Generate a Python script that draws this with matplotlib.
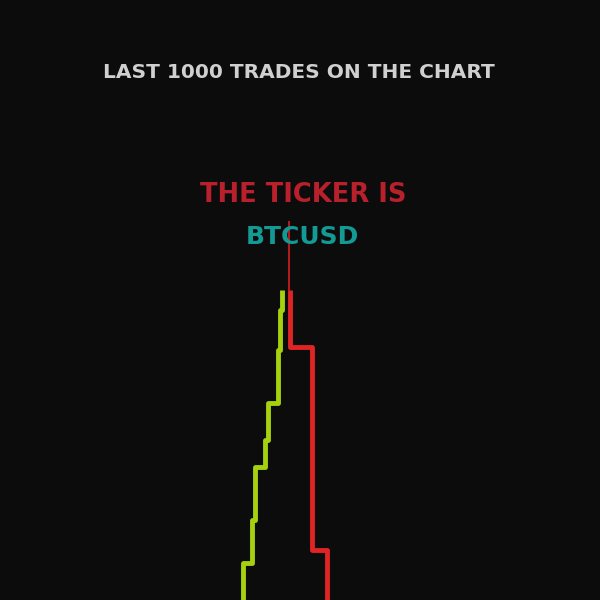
import matplotlib
matplotlib.use("Agg")
import matplotlib.pyplot as plt

# order book depth (price, cumulative size where the level starts)
bid_prices = [28.2, 28.0, 27.8, 26.8, 26.5, 25.5, 25.2, 24.3, 24.3]
bid_depth = [0, 20, 60, 113, 150, 177, 230, 273, 330]
ask_prices = [29.0, 31.2, 32.7, 32.7]
ask_depth = [0, 57, 260, 330]
last_price = 28.9

TITLE = "LAST 1000 TRADES ON THE CHART"
TICKER_LABEL = "THE TICKER IS"
TICKER = "BTCUSD"

BG = "#0c0c0c"


def main() -> None:
    fig = plt.figure(figsize=(6, 6), dpi=100, facecolor=BG)
    ax = fig.add_axes([0, 0, 1, 0.517])
    ax.set_facecolor(BG)

    ax.plot(ask_prices, ask_depth, drawstyle="steps-pre", color="#e02424", lw=3.5, solid_capstyle="butt")
    ax.plot(bid_prices, bid_depth, drawstyle="steps-pre", color="#a6d10e", lw=3.5, solid_capstyle="butt")
    # last price marker running up into the ticker text
    ax.plot([last_price, last_price], [0, -68], color="#b01c1c", lw=1.5, clip_on=False)

    ax.set_xlim(0, 60)
    ax.set_ylim(310, 0)
    ax.axis("off")

    fig.text(0.4975, 0.88, TITLE, ha="center", va="center", color="#d0d0d0",
             fontsize=14.5, fontweight="bold")
    fig.text(0.506, 0.675, TICKER_LABEL, ha="center", va="center", color="#b8202c",
             fontsize=18.5, fontweight="bold")
    fig.text(0.504, 0.605, TICKER, ha="center", va="center", color="#139a94",
             fontsize=18, fontweight="bold")

    fig.savefig("out.png", facecolor=BG)
    plt.close(fig)


if __name__ == "__main__":
    main()
